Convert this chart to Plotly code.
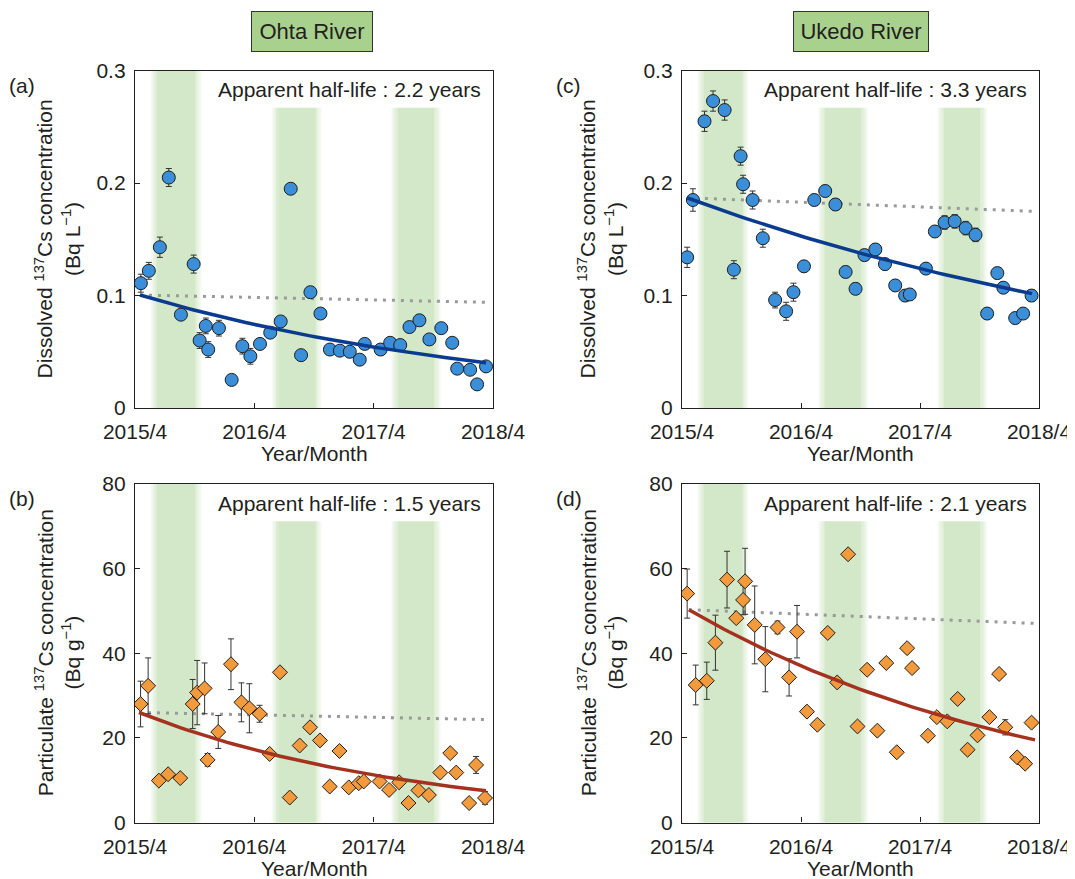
import numpy as np
import plotly.graph_objects as go

# ---------------- data (x = months since 2015/4) ----------------
a_x = [0.59, 1.39, 2.5, 3.4, 4.62, 5.9, 6.5, 7.12, 7.36, 8.44, 9.72, 10.8, 11.6, 12.57, 13.6, 14.65,
       15.66, 16.7, 17.64, 18.65, 19.6, 20.6, 21.6, 22.6, 23.1, 24.7, 25.66, 26.67, 27.6, 28.6, 29.6,
       30.8, 31.9, 32.4, 33.7, 34.4, 35.3]
a_y = [0.111, 0.122, 0.143, 0.205, 0.083, 0.128, 0.060, 0.073, 0.052, 0.071, 0.025, 0.055, 0.046,
       0.057, 0.067, 0.077, 0.195, 0.047, 0.103, 0.084, 0.052, 0.051, 0.050, 0.043, 0.057, 0.052,
       0.058, 0.056, 0.072, 0.078, 0.061, 0.071, 0.058, 0.035, 0.034, 0.021, 0.037]
a_err = [0.008, 0.0075, 0.009, 0.008, 0.004, 0.008, 0.007, 0.007, 0.007, 0.007, 0.003, 0.007, 0.007,
         0.004, 0.004, 0.004, 0.004, 0.004, 0.004, 0.004, 0.004, 0.004, 0.004, 0.004, 0.004, 0.004,
         0.004, 0.004, 0.004, 0.004, 0.004, 0.004, 0.004, 0.004, 0.004, 0.004, 0.004]

c_x = [0.52, 1.1, 2.27, 3.13, 4.3, 5.23, 5.91, 6.16, 7.12, 8.15, 9.39, 10.5, 11.24, 12.3, 13.34, 14.44,
       15.47, 16.5, 17.5, 18.4, 19.5, 20.47, 21.5, 22.5, 22.97, 24.6, 25.5, 26.48, 27.5, 28.6, 29.6,
       30.77, 31.8, 32.4, 33.6, 34.4, 35.25]
c_y = [0.134, 0.185, 0.255, 0.273, 0.265, 0.123, 0.224, 0.199, 0.185, 0.151, 0.096, 0.086, 0.103,
       0.126, 0.185, 0.193, 0.181, 0.121, 0.106, 0.136, 0.141, 0.128, 0.109, 0.100, 0.101, 0.124,
       0.157, 0.165, 0.166, 0.160, 0.154, 0.084, 0.120, 0.107, 0.080, 0.084, 0.100]
c_err = [0.009, 0.010, 0.009, 0.009, 0.009, 0.008, 0.008, 0.008, 0.008, 0.008, 0.007, 0.008, 0.008,
         0.005, 0.005, 0.005, 0.005, 0.005, 0.005, 0.005, 0.005, 0.005, 0.005, 0.005, 0.005, 0.005,
         0.005, 0.006, 0.006, 0.006, 0.006, 0.005, 0.005, 0.005, 0.005, 0.005, 0.005]

b_x = [0.56, 1.32, 2.4, 3.33, 4.55, 5.8, 6.25, 7.0, 7.3, 8.37, 9.65, 10.7, 11.5, 12.53, 13.54, 14.58,
       15.56, 16.56, 17.6, 18.6, 19.58, 20.56, 21.5, 22.5, 23.0, 24.6, 25.55, 26.56, 27.5, 28.5, 29.55,
       30.7, 31.7, 32.3, 33.6, 34.3, 35.2]
b_y = [28.0, 32.3, 9.9, 11.4, 10.5, 28.0, 30.7, 31.7, 14.8, 21.4, 37.4, 28.4, 27.0, 25.7, 16.2, 35.5,
       5.9, 18.2, 22.5, 19.4, 8.5, 16.9, 8.3, 9.3, 9.7, 9.7, 7.7, 9.5, 4.6, 7.6, 6.5, 11.8, 16.4,
       11.8, 4.6, 13.6, 5.8]
b_err = [5.4, 6.6, 0.8, 0.8, 0.8, 5.8, 7.6, 6.0, 1.5, 3.9, 6.0, 4.6, 5.8, 2.0, 0.8, 0.8, 0.8, 0.8,
         0.8, 0.8, 0.8, 0.8, 0.8, 0.8, 0.8, 0.8, 0.8, 1.0, 0.8, 0.8, 0.8, 0.8, 0.8, 0.8, 0.8, 2.0, 1.5]

d_x = [0.52, 1.38, 2.5, 3.37, 4.54, 5.47, 6.16, 6.36, 7.33, 8.4, 9.63, 10.8, 11.6, 12.6, 13.65, 14.7,
       15.65, 16.75, 17.7, 18.67, 19.7, 20.6, 21.66, 22.7, 23.2, 24.8, 25.7, 26.75, 27.8, 28.8, 29.8,
       31.0, 31.98, 32.6, 33.8, 34.6, 35.25]
d_y = [54.1, 32.5, 33.5, 42.5, 57.4, 48.3, 52.6, 57.0, 46.7, 38.6, 46.1, 34.3, 45.1, 26.2, 23.1, 44.8,
       33.1, 63.4, 22.7, 36.1, 21.7, 37.7, 16.6, 41.2, 36.5, 20.5, 24.9, 23.9, 29.2, 17.2, 20.6, 24.9,
       35.1, 22.5, 15.4, 13.9, 23.6]
d_err = [5.8, 4.7, 4.4, 6.5, 6.7, 1.0, 3.5, 7.8, 9.2, 7.7, 1.5, 4.4, 6.2, 1.0, 1.0, 1.0, 1.0, 1.0,
         1.0, 1.0, 1.0, 1.0, 1.0, 1.0, 1.0, 1.0, 1.0, 1.0, 1.0, 1.0, 1.0, 1.0, 1.0, 1.8, 1.0, 1.0, 1.0]

# fitted exponential curves: (start month, end month, start value, half-life in years)
fit_a = (0.5, 35.3, 0.1005, 2.2)
fit_c = (0.5, 35.3, 0.187, 3.3)
fit_b = (0.4, 35.3, 26.0, 1.62)
fit_d = (0.69, 35.6, 50.3, 2.13)
CS137_HALF_LIFE = 30.17  # years, physical decay (dotted line)

half_life_labels = ["Apparent half-life : 2.2 years", "Apparent half-life : 1.5 years",
                    "Apparent half-life : 3.3 years", "Apparent half-life : 2.1 years"]
panel_labels = ["(a)", "(b)", "(c)", "(d)"]
river_names = ["Ohta River", "Ukedo River"]
x_tickvals = [0, 12, 24, 36]
x_ticktext = ["2015/4", "2016/4", "2017/4", "2018/4"]
y_top_ticks = [0, 0.1, 0.2, 0.3]
y_top_text = ["0", "0.1", "0.2", "0.3"]
y_bot_ticks = [0, 20, 40, 60, 80]
band_start = [1.5, 13.7, 25.7]   # rainy season (months since 2015/4)
band_end = [6.75, 18.8, 30.8]

# ---------------- styling ----------------
W, H = 1075, 879
OFF = 8  # page body margin: figure is drawn 8px right/down of the window corner
FONT = "Liberation Sans, Arial, Helvetica, sans-serif"
INK = "#231f20"
BLUE_MK = "#3b8fd8"
ORANGE_MK = "#f39a3c"
BLUE_LN = "#0b3b8f"
RED_LN = "#a5321f"
GRAY = "#9a9a9a"
BAND = "#d3e8c8"

def px_x(p):
    return (p - OFF) / W

def px_y(p):
    return 1 - (p - OFF) / H

dom_x_left = [px_x(135), px_x(493)]
dom_x_right = [px_x(682), px_x(1039)]
dom_y_top = [px_y(408), px_y(70.7)]
dom_y_bot = [px_y(822.5), px_y(484)]

fig = go.Figure()

panels = [
    ("", a_x, a_y, a_err, fit_a, "circle", BLUE_MK, BLUE_LN, dom_x_left, dom_y_top),
    ("2", b_x, b_y, b_err, fit_b, "diamond", ORANGE_MK, RED_LN, dom_x_left, dom_y_bot),
    ("3", c_x, c_y, c_err, fit_c, "circle", BLUE_MK, BLUE_LN, dom_x_right, dom_y_top),
    ("4", d_x, d_y, d_err, fit_d, "diamond", ORANGE_MK, RED_LN, dom_x_right, dom_y_bot),
]

shapes = []
annotations = []
for i, (sfx, xs, ys, errs, fit, sym, mcol, fcol, xdom, ydom) in enumerate(panels):
    xa = "x" + sfx
    ya = "y" + sfx
    top = i in (0, 2)
    t = np.linspace(fit[0], fit[1], 60)
    phys = fit[2] * 0.5 ** ((t - fit[0]) / 12 / CS137_HALF_LIFE)
    fig.add_trace(go.Scatter(x=t, y=phys, mode="lines", xaxis=xa, yaxis=ya,
                             line=dict(color=GRAY, width=3, dash="3px,6px"),
                             hoverinfo="skip", showlegend=False))
    fig.add_trace(go.Scatter(
        x=xs, y=ys, mode="markers", xaxis=xa, yaxis=ya, showlegend=False,
        marker=dict(symbol=sym, size=13 if sym == "circle" else 11.5, color=mcol,
                    line=dict(color="#1e1e1e", width=1)),
        error_y=dict(type="data", array=errs, visible=True, color="#333333", thickness=1, width=3)))
    fitv = fit[2] * 0.5 ** ((t - fit[0]) / 12 / fit[3])
    fig.add_trace(go.Scatter(x=t, y=fitv, mode="lines", xaxis=xa, yaxis=ya,
                             line=dict(color=fcol, width=3.5), hoverinfo="skip", showlegend=False))

    fade = 0.7
    nstep = 6
    for k, (s, e) in enumerate(zip(band_start, band_end)):
        y1 = 1 if k == 0 else 0.89
        shapes.append(dict(type="rect", xref=xa, yref=ya + " domain", x0=s + fade, x1=e - fade,
                           y0=0, y1=y1, fillcolor=BAND, line=dict(width=0), layer="below"))
        for j in range(nstep):
            op = (j + 0.5) / nstep
            shapes.append(dict(type="rect", xref=xa, yref=ya + " domain",
                               x0=s + fade * j / nstep, x1=s + fade * (j + 1) / nstep,
                               y0=0, y1=y1, fillcolor=BAND, opacity=op, line=dict(width=0),
                               layer="below"))
            shapes.append(dict(type="rect", xref=xa, yref=ya + " domain",
                               x0=e - fade * (j + 1) / nstep, x1=e - fade * j / nstep,
                               y0=0, y1=y1, fillcolor=BAND, opacity=op, line=dict(width=0),
                               layer="below"))

    axis_common = dict(showline=True, linecolor=INK, linewidth=1.3, mirror=True,
                       ticks="inside", ticklen=5, tickwidth=1, tickcolor=INK,
                       showgrid=False, zeroline=False, automargin=False,
                       tickfont=dict(family=FONT, size=21, color=INK))
    xkey = "xaxis" + sfx
    ykey = "yaxis" + sfx
    fig.update_layout(**{
        xkey: dict(domain=xdom, range=[0, 36], tickvals=x_tickvals, ticktext=x_ticktext,
                   anchor=ya, ticklabelstandoff=5, **axis_common),
        ykey: dict(domain=ydom, range=[0, 0.3] if top else [0, 80],
                   tickvals=y_top_ticks if top else y_bot_ticks,
                   ticktext=y_top_text if top else [str(v) for v in y_bot_ticks],
                   anchor=xa, ticklabelstandoff=4, **axis_common),
    })

    annotations.append(dict(text=half_life_labels[i], xref=xa + " domain", yref=ya + " domain",
                            x=1 - 10.5 / 358, y=1 - 19 / 338, xanchor="right", yanchor="middle",
                            showarrow=False, font=dict(family=FONT, size=21, color=INK)))
    left = i < 2
    annotations.append(dict(text=panel_labels[i], xref="paper", yref="paper",
                            x=px_x(21.7 if left else 568.6), y=px_y(86 if top else 498.5),
                            xanchor="center", yanchor="middle", showarrow=False,
                            font=dict(family=FONT, size=21, color=INK)))
    ytxt = ("Dissolved <sup>137</sup>Cs concentration<br>(Bq L<sup>\u22121</sup>)" if top else
            "Particulate <sup>137</sup>Cs concentration<br>(Bq g<sup>\u22121</sup>)")
    annotations.append(dict(text=ytxt, xref="paper", yref="paper", textangle=-90,
                            x=px_x(57 if left else 600), y=px_y(239.4 if top else 653.2),
                            xanchor="center", yanchor="middle", showarrow=False,
                            font=dict(family=FONT, size=21, color=INK)))
    annotations.append(dict(text="Year/Month", xref="paper", yref="paper",
                            x=(xdom[0] + xdom[1]) / 2, y=px_y(454 if top else 868),
                            xanchor="center", yanchor="middle", showarrow=False,
                            font=dict(family=FONT, size=21, color=INK)))

for name, cx, w in zip(river_names, [311.5, 861], [120, 134]):
    annotations.append(dict(text=name, xref="paper", yref="paper", x=px_x(cx), y=px_y(31.2),
                            xanchor="center", yanchor="middle", showarrow=False,
                            width=w, height=39, borderpad=0, bgcolor="#a8d18d",
                            bordercolor="#333333", borderwidth=1,
                            font=dict(family=FONT, size=22, color=INK)))

fig.update_layout(width=W, height=H, margin=dict(l=0, r=0, t=0, b=0, autoexpand=False),
                  paper_bgcolor="white", plot_bgcolor="white", showlegend=False,
                  shapes=shapes, annotations=annotations,
                  font=dict(family=FONT, color=INK))

fig.write_html("out.html")
